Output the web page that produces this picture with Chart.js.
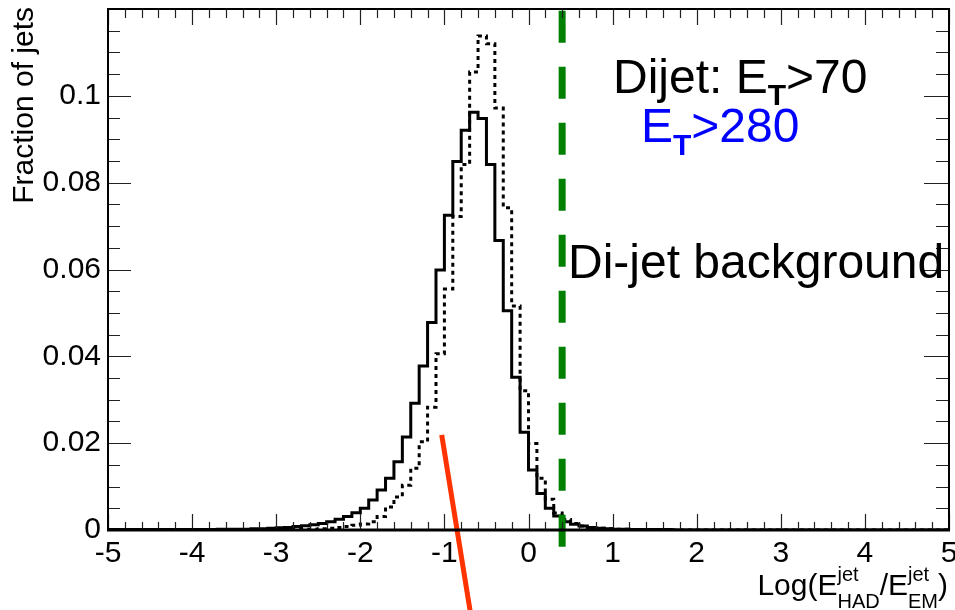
<!DOCTYPE html>
<html>
<head>
<meta charset="utf-8">
<script src="https://cdn.jsdelivr.net/npm/chart.js@4/dist/chart.umd.min.js"></script>
<style>
  html, body { margin: 0; padding: 0; background: #fff; }
  canvas { display: block; }
</style>
</head>
<body>
<canvas id="c" width="955" height="610"></canvas>
<script>
// ---- data ----
const binLow = -5;
const binWidth = 0.1;
const xTickValues = [-5, -4, -3, -2, -1, 0, 1, 2, 3, 4, 5];
const yTickValues = [0, 0.02, 0.04, 0.06, 0.08, 0.1];

// Dijet E_T > 70 (solid)
const dijetEt70 = [
  0.0001,0.0001,0.0001,0.0001,0.0001,0.0001,0.0001,0.0001,0.0001,0.0001,
  0.0001,0.0001,0.0001,0.0002,0.0002,0.0002,0.0002,0.0003,0.0003,0.0004,
  0.0005,0.0006,0.0008,0.0010,0.0012,0.0015,0.0019,0.0025,0.0031,0.0040,
  0.0050,0.0069,0.0092,0.0119,0.0157,0.0214,0.0292,0.0378,0.0478,0.0599,
  0.0725,0.0849,0.0921,0.0962,0.0948,0.0842,0.0667,0.0505,0.0352,0.0225,
  0.0138,0.0084,0.0050,0.0032,0.0019,0.0013,0.0009,0.0006,0.0004,0.0003,
  0.0002,0.0002,0.0001,0.0001,0.0001,0.0001,0.0001,0,0,0,
  0,0,0,0,0,0,0,0,0,0,
  0,0,0,0,0,0,0,0,0,0,
  0,0,0,0,0,0,0,0,0,0
];
// Dijet E_T > 280 (dotted)
const dijetEt280 = [
  0,0,0,0,0,0,0,0,0,0,
  0,0,0,0,0.0001,0.0001,0.0001,0.0001,0.0001,0.0001,
  0.0001,0.0001,0.0002,0.0002,0.0002,0.0003,0.0004,0.0006,0.0008,0.0011,
  0.0014,0.0019,0.0031,0.0053,0.0076,0.0103,0.0142,0.0203,0.0283,0.0406,
  0.0555,0.0722,0.0842,0.1055,0.1138,0.1120,0.0972,0.0742,0.0516,0.0321,
  0.0199,0.0119,0.0071,0.0039,0.0024,0.0015,0.0009,0.0006,0.0004,0.0003,
  0.0002,0.0002,0.0001,0.0001,0.0001,0.0001,0,0,0,0,
  0,0,0,0,0,0,0,0,0,0,
  0,0,0,0,0,0,0,0,0,0,
  0,0,0,0,0,0,0,0,0,0
];
// green dashed cut line
const cutLineX = [0.4, 0.4];
const cutLineY = [0.1196, -0.0039];
// orange arrow line
const arrowX = [-1.032, -0.666];
const arrowY = [0.0219, -0.022];

const FONT = "'Liberation Sans', Arial, Helvetica, sans-serif";

function histPoints(vals) {
  const pts = vals.map((v, i) => ({ x: binLow + i * binWidth, y: v }));
  pts.push({ x: binLow + vals.length * binWidth, y: vals[vals.length - 1] });
  return pts;
}
function linePoints(xs, ys) { return xs.map((x, i) => ({ x, y: ys[i] })); }

const framePlugin = {
  id: 'rootFrame',
  afterDraw(chart) {
    const { ctx, chartArea: { left, right, top, bottom }, scales: { x, y } } = chart;
    ctx.save();
    // inward ticks
    ctx.strokeStyle = '#222';
    ctx.lineWidth = 1.2;
    ctx.beginPath();
    for (let i = 0; i <= 50; i++) {
      const v = -5 + i * 0.2;
      const px = Math.round(x.getPixelForValue(v)) + 0.5;
      const major = i % 5 === 0;
      ctx.moveTo(px, bottom); ctx.lineTo(px, bottom - (major ? 16 : 8));
      ctx.moveTo(px, top); ctx.lineTo(px, top + (major ? 16 : 9));
    }
    for (let i = 0; i <= 24; i++) {
      const v = i * 0.005;
      const py = Math.round(y.getPixelForValue(v)) + 0.5;
      const major = i % 4 === 0;
      ctx.moveTo(left, py); ctx.lineTo(left + (major ? 23 : 12), py);
      ctx.moveTo(right, py); ctx.lineTo(right - (major ? 25 : 13), py);
    }
    ctx.stroke();
    // frame
    ctx.strokeStyle = '#000';
    ctx.lineWidth = 2;
    ctx.strokeRect(left, top, right - left, bottom - top);
    ctx.lineWidth = 3;
    ctx.beginPath(); ctx.moveTo(left - 1, bottom); ctx.lineTo(right + 1, bottom); ctx.stroke();

    // y title
    ctx.save();
    ctx.fillStyle = '#000';
    ctx.font = `30px ${FONT}`;
    ctx.translate(33, 7);
    ctx.rotate(-Math.PI / 2);
    ctx.textAlign = 'right';
    ctx.textBaseline = 'alphabetic';
    ctx.fillText('Fraction of jets', 0, 0);
    ctx.restore();

    // x title: Log(E^jet_HAD/E^jet_EM)
    ctx.textAlign = 'left';
    ctx.textBaseline = 'alphabetic';
    ctx.fillStyle = '#000';
    const big = `30px ${FONT}`, small = `20px ${FONT}`;
    ctx.font = big;
    const w1 = ctx.measureText('Log(E').width, w3 = ctx.measureText('/E').width, w5 = ctx.measureText(')').width;
    ctx.font = small;
    const w2 = Math.max(ctx.measureText('jet').width, ctx.measureText('HAD').width);
    const w4 = Math.max(ctx.measureText('jet').width, ctx.measureText('EM').width);
    let cx = 948 - (w1 + w2 + w3 + w4 + w5);
    const base = 595, supB = 581, subB = 608;
    ctx.font = big; ctx.fillText('Log(E', cx, base); cx += w1;
    ctx.font = small; ctx.fillText('jet', cx, supB); ctx.fillText('HAD', cx, subB); cx += w2;
    ctx.font = big; ctx.fillText('/E', cx, base); cx += w3;
    ctx.font = small; ctx.fillText('jet', cx, supB); ctx.fillText('EM', cx, subB); cx += w4;
    ctx.font = big; ctx.fillText(')', cx, base);

    // annotations
    const ann = `48px ${FONT}`, annSub = `bold 30px ${FONT}`;
    function subText(parts, x0, baseY, subY, color) {
      ctx.fillStyle = color;
      let xx = x0;
      for (const [t, isSub] of parts) {
        ctx.font = isSub ? annSub : ann;
        ctx.fillText(t, xx, isSub ? subY : baseY);
        xx += ctx.measureText(t).width;
      }
    }
    subText([['Dijet: E', false], ['T', true], ['>70', false]], 613, 93, 105, '#000');
    subText([['E', false], ['T', true], ['>280', false]], 641, 142, 155, '#0000ff');
    ctx.font = ann; ctx.fillStyle = '#000';
    ctx.fillText('Di-jet background', 568, 278);
    ctx.restore();
  }
};

new Chart(document.getElementById('c'), {
  type: 'line',
  data: {
    datasets: [
      { label: 'cut', data: linePoints(cutLineX, cutLineY), borderColor: '#008000', borderWidth: 7,
        borderDash: [32, 24], pointRadius: 0, clip: false, order: 0, borderCapStyle: 'butt' },
      { label: 'arrow', data: linePoints(arrowX, arrowY), borderColor: '#ff3300', borderWidth: 5,
        pointRadius: 0, clip: false, order: 0, borderCapStyle: 'butt' },
      { label: 'Dijet ET>70', data: histPoints(dijetEt70), borderColor: '#000', borderWidth: 3,
        stepped: 'before', pointRadius: 0, order: 2, borderJoinStyle: 'miter' },
      { label: 'ET>280', data: histPoints(dijetEt280), borderColor: '#000', borderWidth: 3,
        borderDash: [4, 4], stepped: 'before', pointRadius: 0, order: 1, borderJoinStyle: 'miter' }
    ]
  },
  options: {
    responsive: false,
    animation: false,
    devicePixelRatio: 1,
    layout: { padding: { top: 9, right: 6, left: 0, bottom: 0 } },
    plugins: { legend: { display: false }, tooltip: { enabled: false } },
    elements: { line: { tension: 0, fill: false } },
    scales: {
      x: {
        type: 'linear', min: -5, max: 5,
        afterFit(s) { s.height = 80; s.paddingLeft = 0; s.paddingRight = 0; },
        afterBuildTicks(s) { s.ticks = xTickValues.map(v => ({ value: v })); },
        grid: { display: false, drawTicks: false },
        border: { display: false },
        ticks: { color: '#000', font: { family: FONT, size: 30 }, padding: 6,
                 maxRotation: 0, autoSkip: false, callback: v => String(Math.round(v)) }
      },
      y: {
        type: 'linear', min: 0, max: 0.12,
        afterFit(s) { s.width = 108; s.paddingTop = 0; s.paddingBottom = 0; },
        afterBuildTicks(s) { s.ticks = yTickValues.map(v => ({ value: v })); },
        grid: { display: false, drawTicks: false },
        border: { display: false },
        ticks: { color: '#000', font: { family: FONT, size: 30 }, padding: 7,
                 callback: v => String(Math.round(v * 1000) / 1000) }
      }
    }
  },
  plugins: [framePlugin]
});
</script>
</body>
</html>
